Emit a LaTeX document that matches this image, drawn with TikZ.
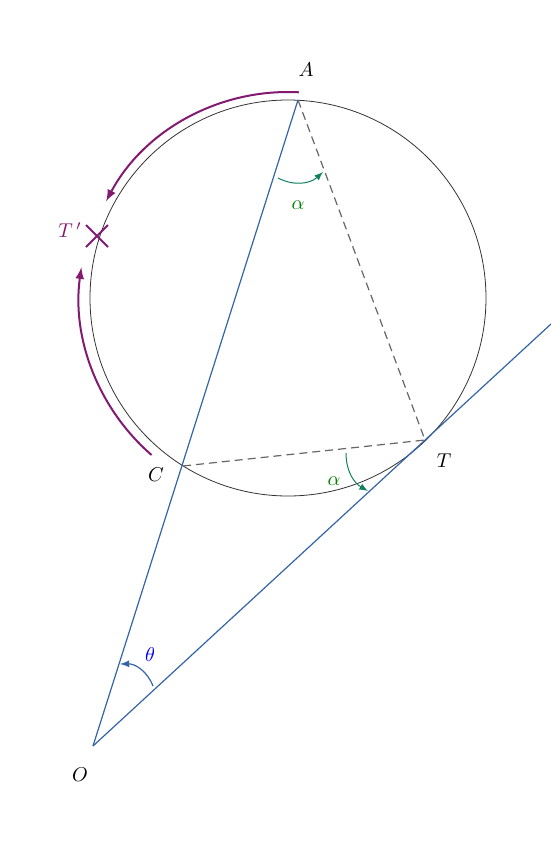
\documentclass[tikz,border=0pt]{standalone}
\usepackage{amsmath,amssymb}
\usepackage{tikz}
\usetikzlibrary{shapes.misc}
\definecolor{lineblue}{RGB}{52,100,168}
\definecolor{arcpurple}{RGB}{130,26,112}
\definecolor{anglegreen}{RGB}{16,128,96}
\begin{document}
\begin{tikzpicture}[x=0.5pt,y=-0.5pt,
    secant/.style={color=lineblue, line width=0.6pt},
    chord/.style={dash pattern=on 4pt off 2.5pt, color=black!60, line width=0.6pt},
    turn/.style={line width=1pt, color=arcpurple, -latex},
    anglemark/.style={color=anglegreen, line width=0.5pt, -latex},
    lbl/.style={inner sep=1pt}]
            \useasboundingbox (0,0) rectangle (551,846);
            \coordinate (ctr) at (288,298);
            \coordinate (A) at (298,100);
            \coordinate (T) at (425,440);
            \coordinate (C) at (183,466);
            \coordinate (O) at (93,746);
            \coordinate (far) at (551,324);
            \draw[color=black!80, line width=0.4pt] (ctr) circle[radius=99pt];
            \draw[chord] (A) -- (T);
            \draw[chord] (C) -- (T);
            \draw[secant] (O) -- (A);
            \draw[secant] (O) -- (far);
            \node[lbl] (labA) at (306,70) {$A$};
            \node[lbl] (labT) at (444,461) {$T$};
            \node[lbl] (labC) at (156,475) {$C$};
            \node[lbl] (labO) at (80,775) {$O$};
            \draw[turn] (ctr) ++(87:103pt) arc[start angle=87, end angle=152, radius=103pt];
            \draw[turn] (ctr) ++(229:104pt) arc[start angle=229, end angle=172, radius=105pt];
            \node[cross out, draw=arcpurple, line width=1pt, minimum size=10pt, inner sep=0pt] (Tp) at (97,236) {};
            \node[lbl, text=arcpurple] (labTp) at (70,230) {$T\,'$};
            \draw[anglemark] (278,178) to[bend right=35] (323,172);
            \node[lbl, text=green!50!black] (alpha1) at (298,205) {$\alpha$};
            \draw[anglemark] (346,453) to[bend right=30] (368,491);
            \node[lbl, text=green!50!black] (alpha2) at (334,481) {$\alpha$};
            \draw[secant, -latex] (153,686) to[bend right=35] (120,664);
            \node[lbl, text=blue] (theta) at (150,655) {$\theta$};
        \end{tikzpicture}
\end{document}
